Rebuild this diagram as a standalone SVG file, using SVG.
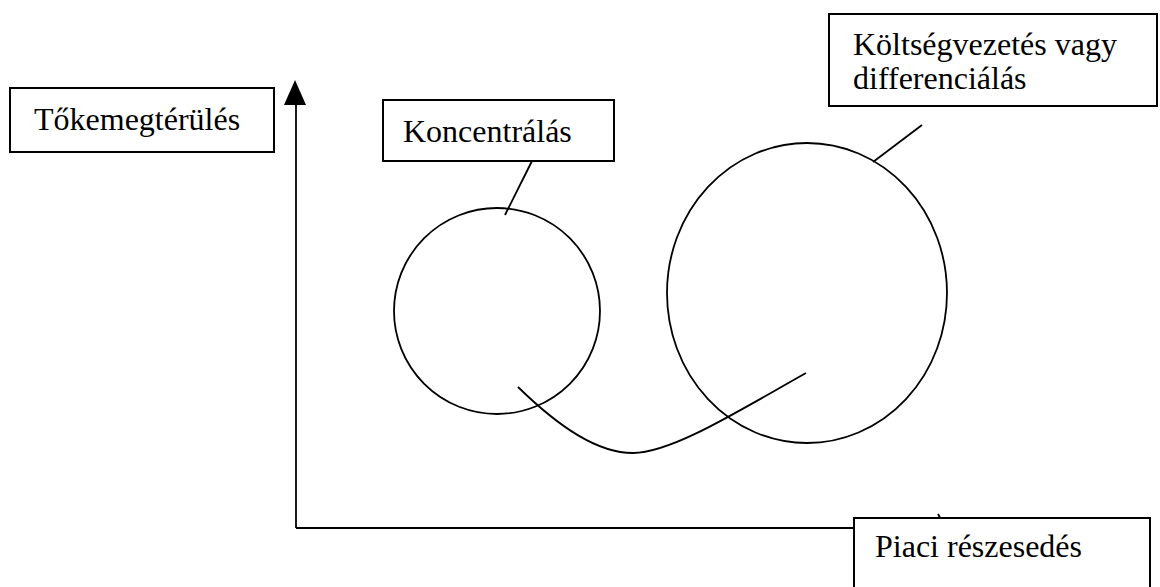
<svg xmlns="http://www.w3.org/2000/svg" width="1160" height="587" viewBox="0 0 1160 587">
<style>
.box{fill:#fff;stroke:#000;stroke-width:2}
.ln{fill:none;stroke:#000;stroke-width:1.8}
text{font-family:"Liberation Serif","Times New Roman",serif;font-size:32px;fill:#000}
</style>
<rect width="1160" height="587" fill="#fff"/>
<g id="connectors">
<line class="ln" x1="296" y1="100" x2="296" y2="528"/>
<polygon points="295,80 284,105 306,105" fill="#000"/>
<line class="ln" x1="296" y1="528" x2="940" y2="528"/>
<polyline class="ln" points="938,514 946,528"/>
<line class="ln" x1="505" y1="215" x2="532" y2="161"/>
<line class="ln" x1="873" y1="162" x2="922" y2="125"/>
<path class="ln" d="M518,387 C560,428 598,453 633,453 C672,453 740,410 806,373"/>
</g>
<g id="axis-y-label"><rect class="box" x="10" y="88" width="264" height="64"/><text x="34" y="130">Tőkemegtérülés</text></g>
<g id="koncentralas"><rect class="box" x="383" y="100" width="231" height="61"/><text x="403" y="142">Koncentrálás</text></g>
<g id="small-circle"><ellipse class="ln" cx="497" cy="311" rx="103" ry="103"/></g>
<g id="large-circle"><ellipse class="ln" cx="807" cy="293" rx="140" ry="150"/></g>
<g id="koltseg"><rect class="box" x="829" y="14" width="328" height="92"/><text x="853" y="55">Költségvezetés vagy</text><text x="853" y="89">differenciálás</text></g>
<g id="axis-x-label"><rect class="box" x="854" y="518" width="296" height="80"/><text x="875" y="557">Piaci részesedés</text></g>
</svg>
